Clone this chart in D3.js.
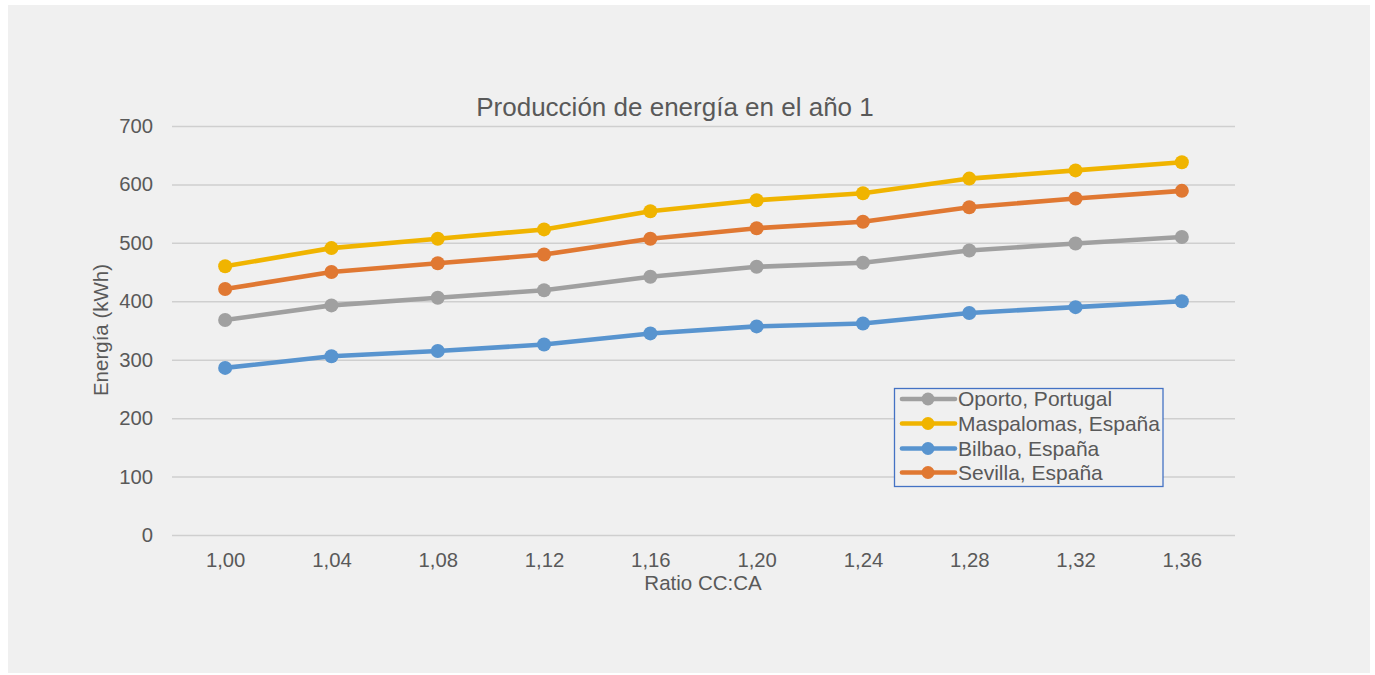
<!DOCTYPE html>
<html>
<head>
<meta charset="utf-8">
<script src="https://cdn.jsdelivr.net/npm/d3@7"></script>
<style>
  html, body { margin: 0; padding: 0; background: #ffffff; }
  svg { display: block; font-family: Arial, "Liberation Sans", sans-serif; }
</style>
</head>
<body>
<svg id="chart" width="1375" height="675"></svg>
<script>
// Ratio CC:CA categories
const categories = ["1,00", "1,04", "1,08", "1,12", "1,16", "1,20", "1,24", "1,28", "1,32", "1,36"];

// Annual energy production (kWh) per location
const oporto     = [368, 393, 406, 419, 442, 459, 466, 487, 499, 510];
const maspalomas = [460, 491, 507, 523, 554, 573, 585, 610, 624, 638];
const bilbao     = [286, 306, 315, 326, 345, 357, 362, 380, 390, 400];
const sevilla    = [421, 450, 465, 480, 507, 525, 536, 561, 576, 589];

const seriesNames = ["Oporto, Portugal", "Maspalomas, España", "Bilbao, España", "Sevilla, España"];
const seriesValues = [oporto, maspalomas, bilbao, sevilla];
const seriesColors = ["#a0a0a0", "#f0b400", "#5894cf", "#e07832"];

const yTicks = [0, 100, 200, 300, 400, 500, 600, 700];

const svg = d3.select("#chart");
const textColor = "#595959";

// chart area background
svg.append("rect")
  .attr("x", 8).attr("y", 5)
  .attr("width", 1362).attr("height", 668)
  .attr("fill", "#f0f0f0");

const plot = { left: 172, right: 1235, top: 126, bottom: 535 };

const x = d3.scalePoint()
  .domain(categories)
  .range([plot.left, plot.right])
  .padding(0.5);

const y = d3.scaleLinear()
  .domain([0, 700])
  .range([plot.bottom, plot.top]);

// horizontal gridlines + y tick labels
const yAxis = d3.axisLeft(y)
  .tickValues(yTicks)
  .tickSize(-(plot.right - plot.left))
  .tickPadding(19)
  .tickFormat(d3.format("d"));

const gy = svg.append("g")
  .attr("transform", `translate(${plot.left},0)`)
  .call(yAxis);
gy.select(".domain").remove();
gy.selectAll(".tick line")
  .attr("stroke", "#cfcfcf")
  .attr("stroke-width", 1.5);
gy.selectAll(".tick text")
  .attr("fill", textColor)
  .attr("font-size", 20.3)
  .attr("font-family", "Arial, 'Liberation Sans', sans-serif");

// x tick labels
const xAxis = d3.axisBottom(x).tickSize(0).tickPadding(18);
const gx = svg.append("g")
  .attr("transform", `translate(0,${plot.bottom})`)
  .call(xAxis);
gx.select(".domain").remove();
gx.selectAll(".tick text")
  .attr("fill", textColor)
  .attr("font-size", 20.3)
  .attr("font-family", "Arial, 'Liberation Sans', sans-serif");

// title
svg.append("text")
  .attr("x", 675).attr("y", 116)
  .attr("text-anchor", "middle")
  .attr("fill", textColor)
  .attr("font-size", 26)
  .text("Producción de energía en el año 1");

// axis titles
svg.append("text")
  .attr("x", 703).attr("y", 590)
  .attr("text-anchor", "middle")
  .attr("fill", textColor)
  .attr("font-size", 20.5)
  .text("Ratio CC:CA");

svg.append("text")
  .attr("transform", "translate(108,330) rotate(-90)")
  .attr("text-anchor", "middle")
  .attr("fill", textColor)
  .attr("font-size", 20.5)
  .text("Energía (kWh)");

// series lines and markers
const line = d3.line()
  .x((d, i) => x(categories[i]))
  .y(d => y(d));

seriesValues.forEach((vals, s) => {
  const g = svg.append("g");
  g.append("path")
    .datum(vals)
    .attr("d", line)
    .attr("fill", "none")
    .attr("stroke", seriesColors[s])
    .attr("stroke-width", 4.6)
    .attr("stroke-linejoin", "round")
    .attr("stroke-linecap", "round");
  g.selectAll("circle")
    .data(vals)
    .join("circle")
    .attr("cx", (d, i) => x(categories[i]))
    .attr("cy", d => y(d))
    .attr("r", 7)
    .attr("fill", seriesColors[s]);
});

// legend
const legend = svg.append("g");
legend.append("rect")
  .attr("x", 894.5).attr("y", 388.5)
  .attr("width", 268.5).attr("height", 98)
  .attr("fill", "#f0f0f0")
  .attr("stroke", "#4472c4")
  .attr("stroke-width", 1.3);

const rowY = [399, 423.5, 448.5, 472.5];
seriesNames.forEach((name, s) => {
  const cy = rowY[s];
  legend.append("line")
    .attr("x1", 902).attr("x2", 955)
    .attr("y1", cy).attr("y2", cy)
    .attr("stroke", seriesColors[s])
    .attr("stroke-width", 4.6)
    .attr("stroke-linecap", "round");
  legend.append("circle")
    .attr("cx", 928).attr("cy", cy)
    .attr("r", 6.5)
    .attr("fill", seriesColors[s]);
  legend.append("text")
    .attr("x", 958).attr("y", cy + 7)
    .attr("fill", textColor)
    .attr("font-size", 21)
    .text(name);
});
</script>
</body>
</html>
